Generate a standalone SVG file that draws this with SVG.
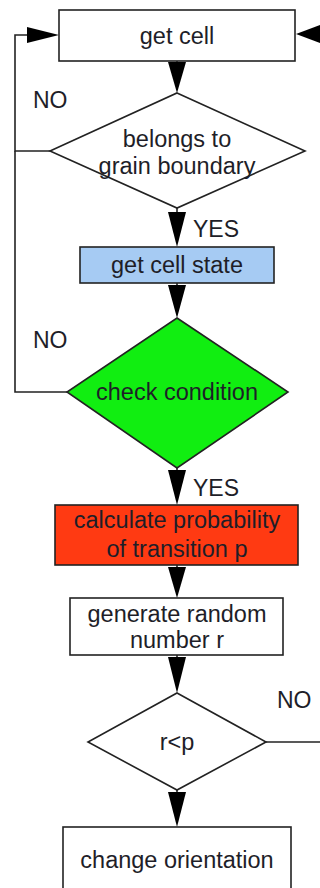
<svg xmlns="http://www.w3.org/2000/svg" width="320" height="888" viewBox="0 0 320 888">
<defs>
<style>
.n{fill:#fff;stroke:#222;stroke-width:1.6}
.t{font-family:"Liberation Sans",Arial,sans-serif;font-size:23.5px;fill:#1e1e28;text-anchor:middle}
.l{font-family:"Liberation Sans",Arial,sans-serif;font-size:23px;fill:#1e1e28}
.c{fill:none;stroke:#222;stroke-width:1.6}
.a{fill:#000}
</style>
</defs>
<rect width="320" height="888" fill="#fff"/>
<g id="connectors">
<polyline class="c" points="50,151 15,151 15,35 30,35"/>
<polyline class="c" points="67,392 15,392 15,151"/>
<line class="c" x1="177" y1="61" x2="177" y2="70"/>
<line class="c" x1="177" y1="208" x2="177" y2="215"/>
<line class="c" x1="177" y1="283" x2="177" y2="290"/>
<line class="c" x1="177" y1="468" x2="177" y2="475"/>
<line class="c" x1="177" y1="565" x2="177" y2="570"/>
<line class="c" x1="177" y1="655" x2="177" y2="662"/>
<line class="c" x1="177" y1="790" x2="177" y2="797"/>
<line class="c" x1="266" y1="742" x2="320" y2="742"/>
<polygon class="a" points="27,27 59,35 27,43"/>
<polygon class="a" points="320,25 296,34 320,43"/>
<polygon class="a" points="168,62 186,62 177,93"/>
<polygon class="a" points="168,212 186,212 177,247"/>
<polygon class="a" points="168,285 186,285 177,318"/>
<polygon class="a" points="168,470 186,470 177,505"/>
<polygon class="a" points="168,567 186,567 177,598"/>
<polygon class="a" points="168,657 186,657 177,693"/>
<polygon class="a" points="168,792 186,792 177,827"/>
<text class="l" x="33" y="108">NO</text>
<text class="l" x="193" y="237">YES</text>
<text class="l" x="33" y="348">NO</text>
<text class="l" x="193" y="496">YES</text>
<text class="l" x="277" y="708">NO</text>
</g>
<g id="get-cell">
<rect class="n" x="59" y="10" width="236" height="51"/>
<text class="t" x="177" y="44">get cell</text>
</g>
<g id="belongs">
<polygon class="n" points="177,93 305,151 177,208 50,151"/>
<text class="t" x="177" y="147">belongs to</text>
<text class="t" x="177" y="174">grain boundary</text>
</g>
<g id="get-cell-state">
<rect class="n" x="80" y="247" width="194" height="36" style="fill:#a6cbf3"/>
<text class="t" x="177" y="273">get cell state</text>
</g>
<g id="check-condition">
<polygon class="n" points="177,318 288,392 177,468 67,392" style="fill:#11ee11"/>
<text class="t" x="177" y="400">check condition</text>
</g>
<g id="calculate">
<rect class="n" x="55" y="505" width="243" height="60" style="fill:#ff3a12"/>
<text class="t" x="177" y="528">calculate probability</text>
<text class="t" x="177" y="557">of transition p</text>
</g>
<g id="generate">
<rect class="n" x="70" y="598" width="213" height="57"/>
<text class="t" x="177" y="622">generate random</text>
<text class="t" x="177" y="648">number r</text>
</g>
<g id="compare">
<polygon class="n" points="177,693 266,742 177,790 88,742"/>
<text class="t" x="177" y="750">r&lt;p</text>
</g>
<g id="change-orientation">
<rect class="n" x="63" y="827" width="228" height="70"/>
<text class="t" x="177" y="868">change orientation</text>
</g>
</svg>
